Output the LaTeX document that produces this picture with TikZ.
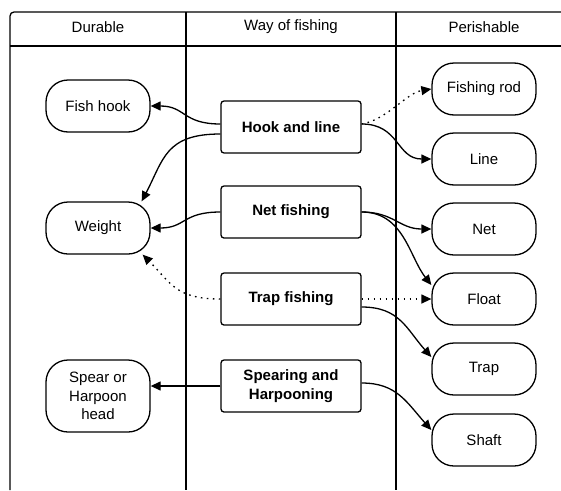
\documentclass[tikz,border=0pt]{standalone}
\usepackage{fontspec}
\setmainfont{Liberation Sans}
\usetikzlibrary{arrows.meta}
\begin{document}
\begin{tikzpicture}[x=1pt,y=-1pt,
  every node/.style={font=\fontsize{15}{18.5}\selectfont},
  frameline/.style={line width=1.3pt},
  pill/.style={draw,line width=1.3pt,rounded corners=22pt,minimum width=104pt,minimum height=52pt,inner sep=2pt,align=center},
  waybox/.style={draw,line width=1.3pt,rounded corners=3pt,minimum width=140pt,minimum height=52pt,inner sep=2pt,align=center,font=\fontsize{15}{19}\selectfont\bfseries},
  conn/.style={line width=1.3pt,-{Triangle[length=10pt,width=9pt]}},
  dotconn/.style={conn,dash pattern=on 1.6pt off 4.4pt}
]
\useasboundingbox (0,0) rectangle (561,490);
% frame
\draw[frameline,rounded corners=4pt] (10,490) -- (10,12) -- (575,12);
\draw[frameline] (10,46) -- (561,46);
\draw[frameline] (186,12) -- (186,490);
\draw[frameline] (396,12) -- (396,490);
\node (h1) at (98,27) {Durable};
\node (h2) at (291,27) {Way of fishing};
\node (h3) at (484,27) {Perishable};
% durable
\node[pill] (fh) at (98,106) {Fish hook};
\node[pill] (w) at (98,228) {Weight};
\node[pill,minimum height=72pt] (sp) at (98,396) {Spear or\\Harpoon\\head};
% ways
\node[waybox] (hl) at (291,127) {Hook and line};
\node[waybox] (nf) at (291,212) {Net fishing};
\node[waybox] (tf) at (291,299) {Trap fishing};
\node[waybox] (sh) at (291,386) {Spearing and\\Harpooning};
% perishable
\node[pill] (fr) at (484,89) {Fishing rod};
\node[pill] (ln) at (484,159) {Line};
\node[pill] (nt) at (484,229) {Net};
\node[pill] (fl) at (484,299) {Float};
\node[pill] (tr) at (484,369) {Trap};
\node[pill] (sf) at (484,440) {Shaft};
% coordinates
\coordinate (wtop) at ([xshift=-9pt]w.north east);
\coordinate (wbot) at ([xshift=-8pt]w.south east);
% connectors left
\draw[conn] ([yshift=3pt]hl.west) .. controls +(-38,0) and +(35,0) .. (fh.east);
\draw[conn] ([yshift=-7pt]hl.west) .. controls +(-55,0) and +(22,-42) .. (wtop);
\draw[conn] (nf.west) .. controls +(-38,0) and +(35,0) .. (w.east);
\draw[dotconn] (tf.west) .. controls +(-45,0) and +(28,28) .. (wbot);
\draw[conn] (sh.west) -- (sh.west -| sp.east);
% connectors right
\draw[dotconn] ([yshift=3pt]hl.east) .. controls +(25,-4) and +(-25,4) .. (fr.west);
\draw[conn] ([yshift=3pt]hl.east) .. controls +(38,0) and +(-35,0) .. (ln.west);
\draw[conn] (nf.east) .. controls +(32,0) and +(-32,0) .. (nt.west);
\draw[conn] (nf.east) .. controls +(42,0) and +(-22,-28) .. ([yshift=14pt]fl.west);
\draw[dotconn] (tf.east) -- (fl.west);
\draw[conn] ([yshift=-8pt]tf.east) .. controls +(38,0) and +(-25,-28) .. ([yshift=12pt]tr.west);
\draw[conn] ([yshift=3pt]sh.east) .. controls +(35,0) and +(-25,-28) .. ([yshift=10pt]sf.west);
\end{tikzpicture}
\end{document}
